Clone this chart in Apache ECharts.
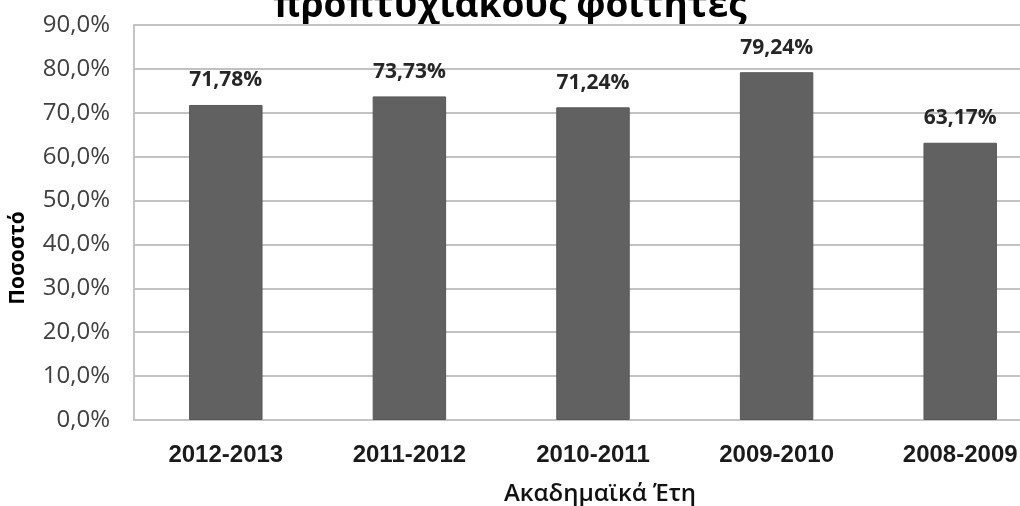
<!DOCTYPE html>
<html>
<head>
<meta charset="utf-8">
<script src="https://cdn.jsdelivr.net/npm/echarts@6/dist/echarts.min.js"></script>
<style>
html,body{margin:0;padding:0;background:#fff;}
#chart{width:1020px;height:506px;}
</style>
</head>
<body>
<div id="chart"></div>
<script>
const categories = ['2012-2013', '2011-2012', '2010-2011', '2009-2010', '2008-2009'];
const values = [71.78, 73.73, 71.24, 79.24, 63.17];
const titleText = 'προπτυχιακούς φοιτητές';
const yAxisName = 'Ποσοστό';
const xAxisName = 'Ακαδημαϊκά Έτη';

const chart = echarts.init(document.getElementById('chart'), null, {renderer: 'canvas'});
const option = {
  animation: false,
  backgroundColor: '#ffffff',
  grid: {
    left: 134, top: 25, width: 918, height: 395,
    show: true, borderColor: '#c4c4c4', borderWidth: 2, backgroundColor: 'transparent',
    containLabel: false, outerBoundsMode: 'none'
  },
  xAxis: {
    type: 'category',
    data: categories,
    axisLine: {show: true, lineStyle: {color: '#c4c4c4', width: 2}},
    axisTick: {show: false},
    axisLabel: {
      margin: 23,
      fontFamily: 'Liberation Sans',
      fontWeight: 'bold',
      fontSize: 24,
      color: '#1a1a1a'
    }
  },
  yAxis: {
    type: 'value',
    min: 0, max: 90, interval: 10,
    axisLine: {show: false},
    axisTick: {show: false},
    splitLine: {lineStyle: {color: '#c2c2c2', width: 2}},
    axisLabel: {
      margin: 24,
      fontFamily: 'Open Sans',
      fontSize: 24,
      color: '#404040',
      formatter: v => v.toFixed(1).replace('.', ',') + '%'
    }
  },
  series: [{
    type: 'bar',
    data: values,
    barWidth: '40%',
    itemStyle: {color: '#616161', borderColor: '#575757', borderWidth: 1},
    label: {
      show: true,
      position: 'top',
      distance: 14,
      fontFamily: 'Open Sans',
      fontWeight: 'bold',
      fontSize: 21,
      color: '#262626',
      formatter: p => p.value.toFixed(2).replace('.', ',') + '%'
    }
  }],
  graphic: [
    {
      type: 'text', left: 'center', top: -12,
      style: {text: titleText, fontFamily: 'Open Sans', fontWeight: 'bold', fontSize: 37, fill: '#000'}
    },
    {
      type: 'text', x: 18, y: 258, rotation: Math.PI / 2,
      style: {text: yAxisName, fontFamily: 'Open Sans', fontWeight: 'bold', fontSize: 21, fill: '#000', align: 'center', verticalAlign: 'middle'}
    },
    {
      type: 'text', x: 600, y: 494,
      style: {text: xAxisName, fontFamily: 'Open Sans', fontWeight: 600, fontSize: 24, fill: '#111', align: 'center', verticalAlign: 'middle'}
    }
  ]
};
chart.setOption(option);
</script>
</body>
</html>
